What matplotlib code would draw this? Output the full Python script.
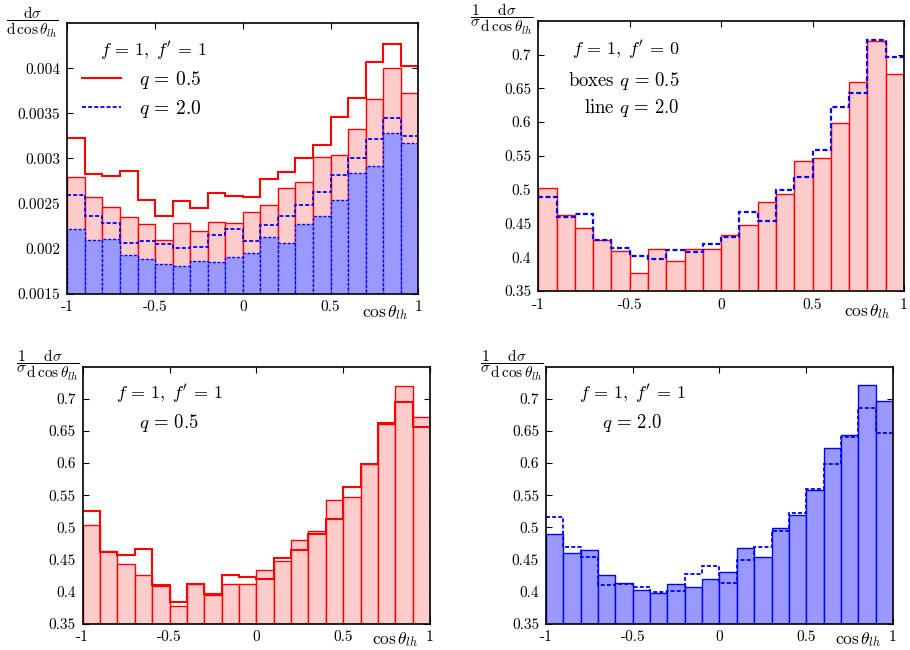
import numpy as np
import matplotlib
matplotlib.use('Agg')
import matplotlib.pyplot as plt

plt.rcParams['font.family'] = 'serif'
plt.rcParams['font.serif'] = ['cmr10', 'DejaVu Serif']
plt.rcParams['mathtext.fontset'] = 'cm'
plt.rcParams['axes.unicode_minus'] = False
plt.rcParams['axes.formatter.use_mathtext'] = True

# 20 bins in cos(theta_lh)
edges = np.linspace(-1, 1, 21)

# top left: d sigma / d cos, f=1, f'=1
p1_q05_line = [0.003223, 0.002831, 0.002805, 0.002865, 0.002535, 0.002358, 0.002524, 0.002447, 0.002613, 0.002587,
               0.002576, 0.002772, 0.002853, 0.003009, 0.003149, 0.00346, 0.003671, 0.004066, 0.00427, 0.00403]
p1_q05_box = [0.002798, 0.002572, 0.002461, 0.002354, 0.002269, 0.002099, 0.00228, 0.002199, 0.002291, 0.002284,
              0.002402, 0.002484, 0.002672, 0.002743, 0.003012, 0.003038, 0.003323, 0.003663, 0.004, 0.00373]
p1_q20_line = [0.002598, 0.002362, 0.002284, 0.002062, 0.002081, 0.002047, 0.00201, 0.002014, 0.002155, 0.002214,
               0.002084, 0.002258, 0.002358, 0.002484, 0.002624, 0.00282, 0.003009, 0.00322, 0.003445, 0.003249]
p1_q20_box = [0.002221, 0.002095, 0.00211, 0.001925, 0.001881, 0.001829, 0.001807, 0.001862, 0.001855, 0.001903,
              0.001955, 0.002125, 0.002058, 0.002269, 0.002358, 0.002535, 0.002835, 0.00292, 0.003286, 0.003168]

# normalised distributions
n_q05_f0 = [0.503, 0.463, 0.443, 0.425, 0.409, 0.377, 0.4115, 0.395, 0.4125, 0.4115,
            0.433, 0.447, 0.481, 0.494, 0.542, 0.547, 0.5986, 0.660, 0.720, 0.671]
n_q20_f0 = [0.489, 0.460, 0.464, 0.425, 0.4135, 0.402, 0.3975, 0.411, 0.407, 0.4195,
            0.430, 0.467, 0.454, 0.499, 0.519, 0.558, 0.623, 0.643, 0.722, 0.697]
n_q05_f1 = [0.525, 0.4617, 0.4565, 0.4663, 0.4097, 0.3843, 0.4113, 0.3957, 0.4253, 0.4222,
            0.4191, 0.4518, 0.4653, 0.4902, 0.513, 0.5634, 0.5981, 0.6621, 0.6948, 0.6564]
n_q20_f1 = [0.5157, 0.4694, 0.4544, 0.4097, 0.412, 0.4071, 0.3999, 0.4014, 0.4279, 0.4398,
            0.4139, 0.4497, 0.4694, 0.4938, 0.5224, 0.5598, 0.5982, 0.6398, 0.685, 0.646]

xticks = [-1, -0.5, 0, 0.5, 1]
xticklabels = ['-1', '-0.5', '0', '0.5', '1']
yticks1 = [0.0015, 0.002, 0.0025, 0.003, 0.0035, 0.004]
yticklabels1 = ['0.0015', '0.002', '0.0025', '0.003', '0.0035', '0.004']
yticks2 = [0.35, 0.4, 0.45, 0.5, 0.55, 0.6, 0.65, 0.7]
yticklabels2 = ['0.35', '0.4', '0.45', '0.5', '0.55', '0.6', '0.65', '0.7']

RED = '#ff0000'
BLUE = '#0000ff'
PINK = '#ffcccc'
LBLUE = '#9999ff'
DASH = (0, (2.2, 1.2))

fig = plt.figure(figsize=(9.1, 6.5), dpi=100)
ax1 = fig.add_axes([0.0740, 0.5482, 0.3857, 0.4160])
ax2 = fig.add_axes([0.5915, 0.5523, 0.4019, 0.4158])
ax3 = fig.add_axes([0.0909, 0.0405, 0.3816, 0.3954])
ax4 = fig.add_axes([0.6000, 0.0405, 0.3813, 0.3954])

frac1 = r'$\dfrac{\mathrm{d}\sigma}{\mathrm{d}\,\cos\theta_{lh}}$'
frac2 = r'$\dfrac{1}{\sigma}\dfrac{\mathrm{d}\sigma}{\mathrm{d}\,\cos\theta_{lh}}$'
xlab = r'$\cos\theta_{lh}$'
ff1 = r"$f\,=\,1,\;f'\,=\,1$"
ff0 = r"$f\,=\,1,\;f'\,=\,0$"


def boxes(ax, vals, fc, ec, ls='-'):
    ax.bar(edges[:-1], vals, width=np.diff(edges), align='edge', color=fc,
           edgecolor=ec, linewidth=1.0, linestyle=ls, zorder=2)


def style(ax, ylim, yt, ytl, ylab, xlx, xly):
    ax.set_xlim(-1, 1)
    ax.set_ylim(*ylim)
    ax.set_xticks(xticks)
    ax.set_xticklabels(xticklabels)
    ax.set_yticks(yt)
    ax.set_yticklabels(ytl)
    ax.tick_params(direction='in', top=True, right=True, length=4, width=0.8,
                   labelsize=11, pad=5)
    for s in ax.spines.values():
        s.set_linewidth(1.2)
        s.set_zorder(5)
    ax.text(-0.10, 1.005, ylab, transform=ax.transAxes, ha='center', va='center', fontsize=11)
    ax.text(xlx, xly, xlab, transform=ax.transAxes, ha='center', va='center', fontsize=12.5)


# panel 1
boxes(ax1, p1_q05_box, PINK, RED)
boxes(ax1, p1_q20_box, LBLUE, BLUE, ls=DASH)
ax1.stairs(p1_q05_line, edges, baseline=None, color=RED, lw=1.5, zorder=3, label=r'$q\,=\,0.5$')
ax1.stairs(p1_q20_line, edges, baseline=None, color=BLUE, lw=1.3, ls=DASH, zorder=3, label=r'$q\,=\,2.0$')
style(ax1, (0.0015, 0.0045), yticks1, yticklabels1, frac1, 0.905, -0.068)
ax1.text(0.2436, 0.90, ff1, transform=ax1.transAxes, ha='center', va='center', fontsize=13)
ax1.legend(loc='upper left', bbox_to_anchor=(0.02, 0.86), frameon=False, fontsize=14,
           handlelength=2.0, handletextpad=0.9, labelspacing=0.35, borderaxespad=0)

# panel 2
boxes(ax2, n_q05_f0, PINK, RED)
ax2.stairs(n_q20_f0, edges, baseline=None, color=BLUE, lw=1.6, ls=DASH, zorder=3)
style(ax2, (0.35, 0.75), yticks2, yticklabels2, frac2, 0.899, -0.075)
ax2.text(0.3875, 0.895, ff0, transform=ax2.transAxes, ha='right', va='center', fontsize=13)
ax2.text(0.3875, 0.777, r"boxes $q\,=\,0.5$", transform=ax2.transAxes, ha='right', va='center', fontsize=13.5)
ax2.text(0.3875, 0.676, r"line $q\,=\,2.0$", transform=ax2.transAxes, ha='right', va='center', fontsize=13.5)

# panel 3
boxes(ax3, n_q05_f0, PINK, RED)
ax3.stairs(n_q05_f1, edges, baseline=None, color=RED, lw=1.5, zorder=3)
style(ax3, (0.35, 0.75), yticks2, yticklabels2, frac2, 0.899, -0.062)
ax3.text(0.249, 0.8965, ff1, transform=ax3.transAxes, ha='center', va='center', fontsize=13)
ax3.text(0.249, 0.7794, r"$q\,=\,0.5$", transform=ax3.transAxes, ha='center', va='center', fontsize=13.5)

# panel 4
boxes(ax4, n_q20_f0, LBLUE, BLUE)
ax4.stairs(n_q20_f1, edges, baseline=None, color=BLUE, lw=1.3, ls=DASH, zorder=3)
style(ax4, (0.35, 0.75), yticks2, yticklabels2, frac2, 0.90, -0.062)
ax4.text(0.249, 0.8965, ff1, transform=ax4.transAxes, ha='center', va='center', fontsize=13)
ax4.text(0.249, 0.7794, r"$q\,=\,2.0$", transform=ax4.transAxes, ha='center', va='center', fontsize=13.5)

fig.savefig('out.png', dpi=100)
